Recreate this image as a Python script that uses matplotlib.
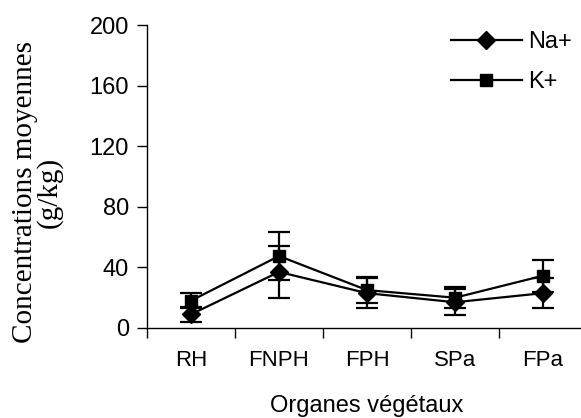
import numpy as np
import matplotlib
matplotlib.use("Agg")
import matplotlib.pyplot as plt
from matplotlib.lines import Line2D

# valeurs
organes = ["RH", "FNPH", "FPH", "SPa", "FPa"]
na_moy = [9, 37, 23, 17, 23]
na_err = [5, 17, 10, 8.5, 10]
k_moy = [18, 47.5, 25, 20, 34.5]
k_err = [5, 16, 8.5, 7, 10.5]
yticks = [0, 40, 80, 120, 160, 200]

plt.rcParams['font.family'] = ['Liberation Sans', 'DejaVu Sans']

fig = plt.figure(figsize=(5.81, 4.18), dpi=100)
ax = fig.add_axes([147/581, 1-328/418, 440/581, 303/418])

x = np.arange(len(organes))
ax.errorbar(x, na_moy, yerr=na_err, color='black', marker='D', markersize=9,
            linewidth=1.6, elinewidth=1.6, capsize=8, capthick=1.6,
            clip_on=False)
ax.errorbar(x, k_moy, yerr=k_err, color='black', marker='s', markersize=8.5,
            linewidth=1.6, elinewidth=1.6, capsize=8, capthick=1.6,
            clip_on=False)

ax.set_xlim(-0.5, 4.5)
ax.set_ylim(0, 200)
ax.set_yticks(yticks)
ax.set_xticks(np.arange(-0.5, 4.0, 1.0))
ax.set_xticklabels([])
ax.set_xticks(x, minor=True)
ax.set_xticklabels(organes, minor=True)
ax.tick_params(axis='x', which='major', direction='out', length=7, width=1)
ax.tick_params(axis='x', which='minor', length=0, pad=16, labelsize=16)
ax.tick_params(axis='y', direction='out', length=7, width=1, labelsize=17, pad=6)

for s in ['top', 'right']:
    ax.spines[s].set_visible(False)
ax.spines['left'].set_linewidth(1)
ax.spines['bottom'].set_linewidth(1)

ax.set_xlabel("Organes végétaux", fontsize=17, labelpad=17)
fig.text(0.064, 0.54, "Concentrations moyennes\n(g/kg)", rotation=90,
         ha='center', va='center', fontsize=21, linespacing=0.9,
         family=['Liberation Serif', 'DejaVu Serif'])

handles = [Line2D([], [], color='black', marker='D', markersize=9, linewidth=1.6),
           Line2D([], [], color='black', marker='s', markersize=8.5, linewidth=1.6)]
leg = ax.legend(handles, ['Na+', 'K+'], loc='upper right',
                bbox_to_anchor=(1.015, 1.05), frameon=False,
                fontsize=17, handlelength=3.0, handletextpad=0.3,
                labelspacing=0.75)

fig.savefig("out.png", dpi=100)
